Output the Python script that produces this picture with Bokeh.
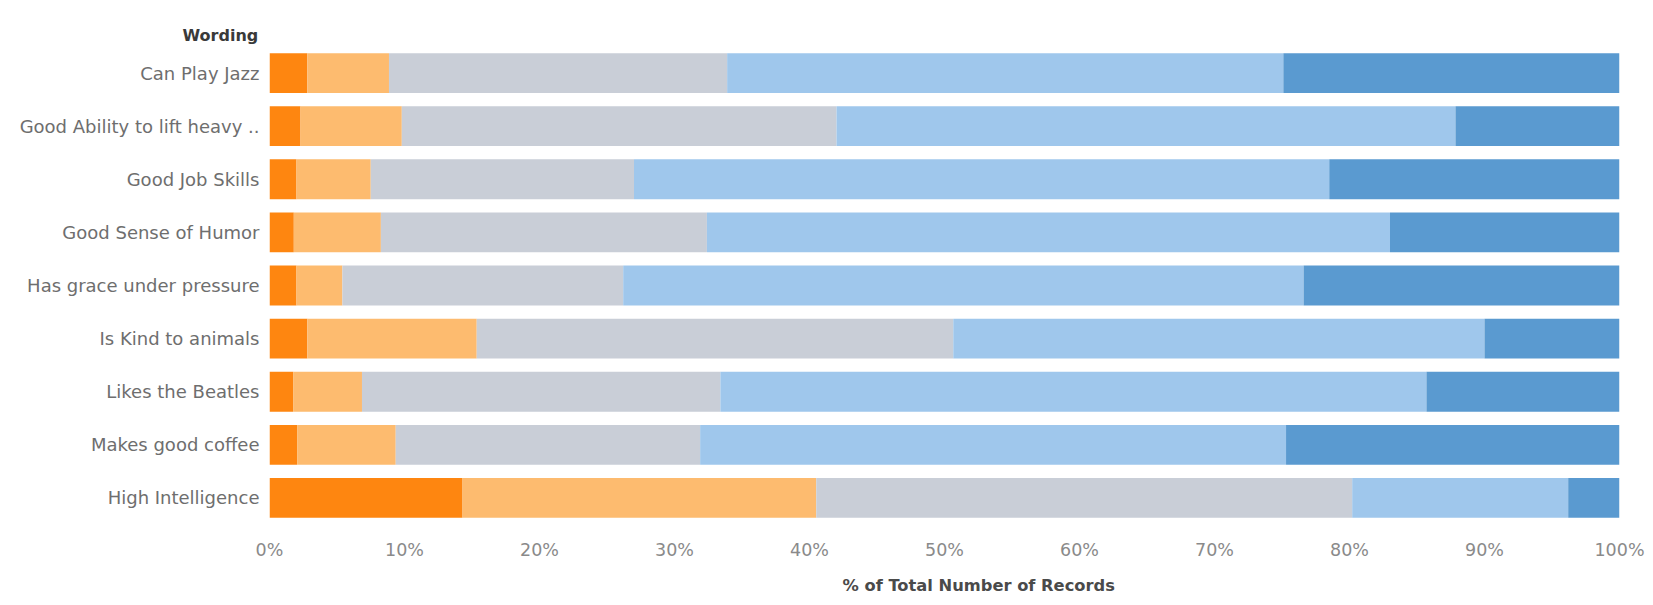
from bokeh.plotting import figure
from bokeh.models import FactorRange, Range1d, FixedTicker, PrintfTickFormatter, Title
from bokeh.embed import file_html
from bokeh.resources import INLINE

categories = ["Can Play Jazz", "Good Ability to lift heavy ..", "Good Job Skills",
              "Good Sense of Humor", "Has grace under pressure", "Is Kind to animals",
              "Likes the Beatles", "Makes good coffee", "High Intelligence"]

levels = ["Strongly disagree", "Disagree", "Neutral", "Agree", "Strongly agree"]

strongly_disagree = [2.8, 2.3, 2.0, 1.8, 2.0, 2.8, 1.75, 2.05, 14.3]
disagree          = [6.05, 7.5, 5.5, 6.45, 3.4, 12.55, 5.1, 7.3, 26.2]
neutral           = [25.05, 32.2, 19.5, 24.15, 20.8, 35.3, 26.55, 22.55, 39.7]
agree             = [41.2, 45.85, 51.5, 50.6, 50.4, 39.35, 52.3, 43.4, 16.0]
strongly_agree    = [24.9, 12.15, 21.5, 17.0, 23.4, 10.0, 14.3, 24.7, 3.8]

x_ticks = [0, 10, 20, 30, 40, 50, 60, 70, 80, 90, 100]
colors = ["#FE8610", "#FDBB6F", "#C9CED7", "#9FC7EC", "#5A9AD0"]

data = {"cat": categories}
for name, vals in zip(levels, [strongly_disagree, disagree, neutral, agree, strongly_agree]):
    data[name] = vals

p = figure(frame_width=1350, frame_height=478, output_backend="svg", toolbar_location=None,
           y_range=FactorRange(factors=list(reversed(categories))),
           x_range=Range1d(0, 100),
           min_border_left=269, min_border_right=26, min_border_top=46, min_border_bottom=73)

p.hbar_stack(levels, y="cat", height=0.75, color=colors, source=data, line_color=None)

FONT = "DejaVu Sans"
p.xaxis.ticker = FixedTicker(ticks=x_ticks)
p.xaxis.formatter = PrintfTickFormatter(format="%d%%")
p.xaxis.major_label_text_font = FONT
p.xaxis.major_label_text_font_size = "17.5px"
p.xaxis.major_label_text_color = "#8a8a8a"
p.xaxis.major_label_standoff = 15
p.yaxis.major_label_text_font = FONT
p.yaxis.major_label_text_font_size = "18px"
p.yaxis.major_label_text_color = "#6e6e6e"
p.yaxis.major_label_standoff = 10
for ax in (p.xaxis, p.yaxis):
    ax.axis_line_color = None
    ax.major_tick_line_color = None
    ax.minor_tick_line_color = None
    ax.major_tick_out = 0
    ax.major_tick_in = 0

p.xgrid.grid_line_color = None
p.ygrid.grid_line_color = None
p.outline_line_color = None

p.add_layout(Title(text="Wording", align="left", offset=-87, standoff=3,
                   text_font=FONT, text_font_size="16px", text_font_style="bold",
                   text_color="#3a3a3a"), "above")
p.add_layout(Title(text="% of Total Number of Records", align="left", offset=573, standoff=22,
                   text_font=FONT, text_font_size="16.3px", text_font_style="bold",
                   text_color="#4a4a4a"), "below")

open("out.html", "w").write(file_html(p, INLINE))
